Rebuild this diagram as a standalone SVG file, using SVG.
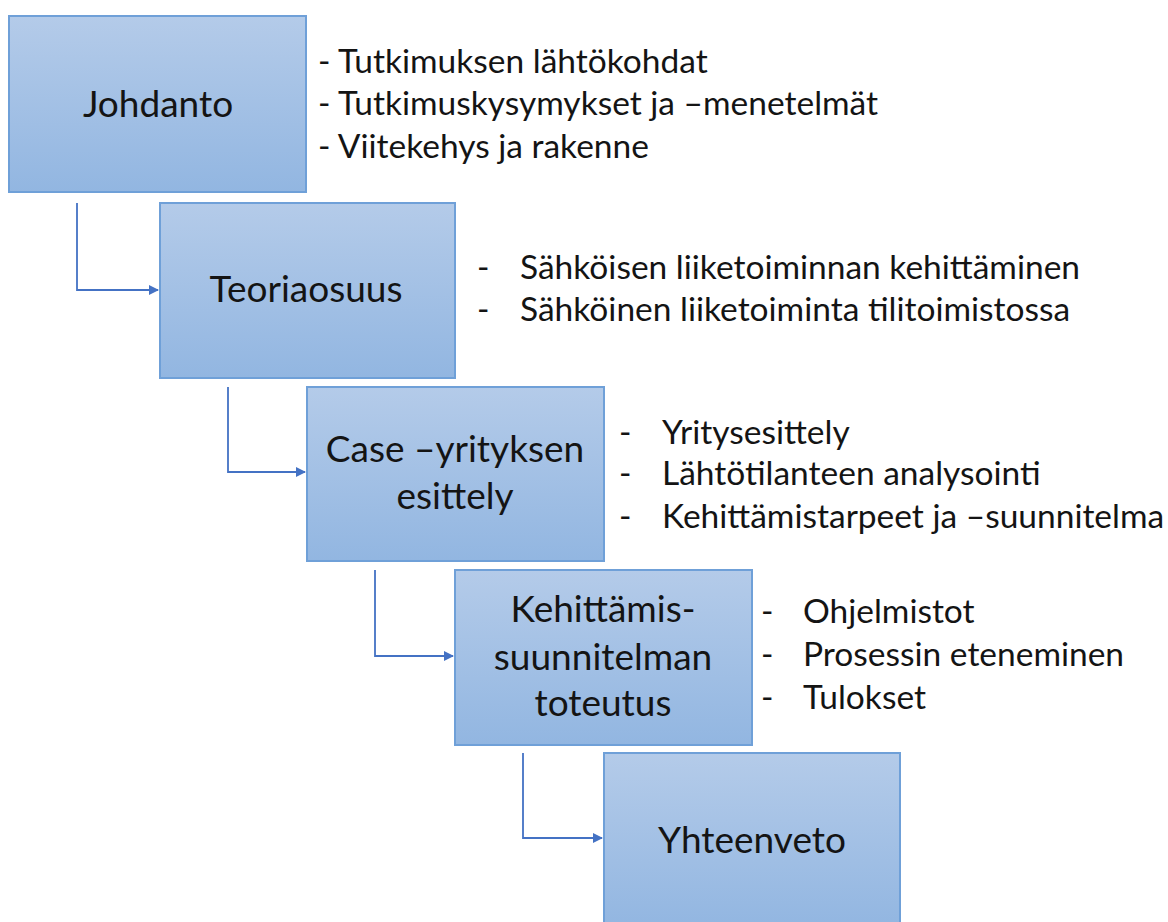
<svg xmlns="http://www.w3.org/2000/svg" width="1168" height="922" viewBox="0 0 1168 922">
<defs>
<linearGradient id="g" x1="0" y1="0" x2="0" y2="1">
<stop offset="0" stop-color="#b4cbe9"/>
<stop offset="1" stop-color="#92b6e1"/>
</linearGradient>
<marker id="arr" viewBox="0 0 10 10" refX="9" refY="5" markerWidth="10" markerHeight="10" markerUnits="userSpaceOnUse" orient="auto">
<path d="M0,0 L10,5 L0,10 z" fill="#4472c4"/>
</marker>
<style>
.box{fill:url(#g);stroke:#6fa0d8;stroke-width:2}
.lbl{font-family:Lato,"Liberation Sans",sans-serif;font-size:37px;fill:#141414;text-anchor:middle}
.lst{font-family:Lato,"Liberation Sans",sans-serif;font-size:33.5px;fill:#141414}
.con{fill:none;stroke:#4472c4;stroke-width:1.8;marker-end:url(#arr)}
</style>
</defs>
<rect width="1168" height="922" fill="#ffffff"/>
<g id="connectors">
<path class="con" d="M77,203 V290 H158"/>
<path class="con" d="M228,387 V472 H305"/>
<path class="con" d="M375,570 V656 H453"/>
<path class="con" d="M523,753 V838 H602"/>
</g>
<g id="johdanto">
<rect class="box" x="9" y="16" width="297" height="176"/>
<text class="lbl" x="158" y="117">Johdanto</text>
</g>
<g id="johdanto-list">
<text class="lst" x="318" y="73">- Tutkimuksen lähtökohdat</text>
<text class="lst" x="318" y="115">- Tutkimuskysymykset ja –menetelmät</text>
<text class="lst" x="318" y="158">- Viitekehys ja rakenne</text>
</g>
<g id="teoriaosuus">
<rect class="box" x="160" y="203" width="295" height="175"/>
<text class="lbl" x="306" y="302">Teoriaosuus</text>
</g>
<g id="teoriaosuus-list">
<text class="lst" x="477" y="279">-</text>
<text class="lst" x="520" y="279">Sähköisen liiketoiminnan kehittäminen</text>
<text class="lst" x="477" y="321">-</text>
<text class="lst" x="520" y="321">Sähköinen liiketoiminta tilitoimistossa</text>
</g>
<g id="case">
<rect class="box" x="307" y="387" width="297" height="174"/>
<text class="lbl" x="455" y="462">Case –yrityksen</text>
<text class="lbl" x="455" y="509">esittely</text>
</g>
<g id="case-list">
<text class="lst" x="619" y="444">-</text>
<text class="lst" x="662" y="444">Yritysesittely</text>
<text class="lst" x="619" y="485">-</text>
<text class="lst" x="662" y="485">Lähtötilanteen analysointi</text>
<text class="lst" x="619" y="528">-</text>
<text class="lst" x="662" y="528">Kehittämistarpeet ja –suunnitelma</text>
</g>
<g id="kehittamis">
<rect class="box" x="455" y="570" width="297" height="175"/>
<text class="lbl" x="603" y="622">Kehittämis-</text>
<text class="lbl" x="603" y="670">suunnitelman</text>
<text class="lbl" x="603" y="716">toteutus</text>
</g>
<g id="kehittamis-list">
<text class="lst" x="761" y="623">-</text>
<text class="lst" x="803" y="623">Ohjelmistot</text>
<text class="lst" x="761" y="666">-</text>
<text class="lst" x="803" y="666">Prosessin eteneminen</text>
<text class="lst" x="761" y="709">-</text>
<text class="lst" x="803" y="709">Tulokset</text>
</g>
<g id="yhteenveto">
<rect class="box" x="604" y="753" width="296" height="175"/>
<text class="lbl" x="752" y="853">Yhteenveto</text>
</g>
</svg>
